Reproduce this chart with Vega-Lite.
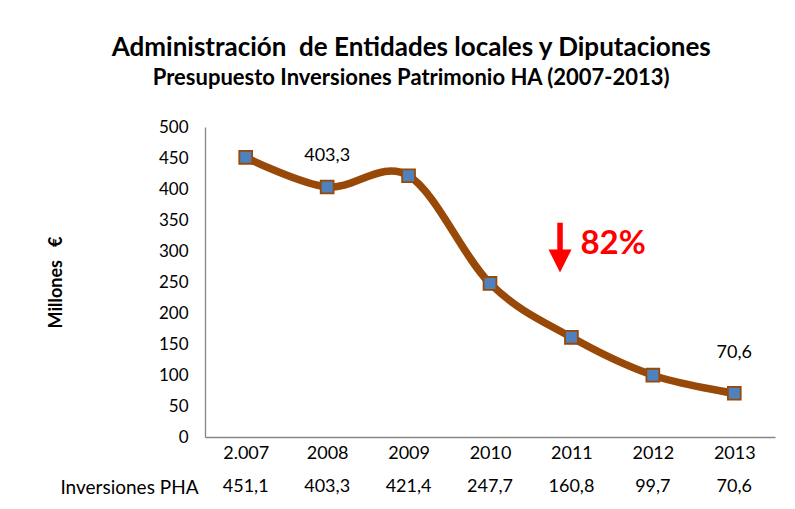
{
  "$schema": "https://vega.github.io/schema/vega-lite/v6.json",
  "background": "white",
  "padding": {"left": 47, "top": 35, "right": 12, "bottom": 5},
  "title": {
    "text": "Administración\u00a0 de Entidades locales y Diputaciones",
    "subtitle": "Presupuesto Inversiones Patrimonio HA (2007-2013)",
    "font": "Lato", "fontSize": 26, "fontWeight": "bold", "color": "#000000",
    "subtitleFont": "Lato", "subtitleFontSize": 22, "subtitleFontWeight": "bold", "subtitleColor": "#000000",
    "subtitlePadding": 7, "anchor": "middle", "frame": "bounds", "offset": 29
  },
  "datasets": {
    "pha": [
      {"year": 2007, "serie": "Inversiones PHA", "v": 451.1},
      {"year": 2008, "serie": "Inversiones PHA", "v": 403.3},
      {"year": 2009, "serie": "Inversiones PHA", "v": 421.4},
      {"year": 2010, "serie": "Inversiones PHA", "v": 247.7},
      {"year": 2011, "serie": "Inversiones PHA", "v": 160.8},
      {"year": 2012, "serie": "Inversiones PHA", "v": 99.7},
      {"year": 2013, "serie": "Inversiones PHA", "v": 70.6}
    ]
  },
  "spacing": 10,
  "vconcat": [
    {
      "width": 570,
      "height": 310,
      "data": {"name": "pha"},
      "encoding": {
        "x": {
          "field": "year", "type": "quantitative",
          "scale": {"domain": [2006.5, 2013.5], "nice": false, "zero": false},
          "axis": {
            "values": [2007, 2008, 2009, 2010, 2011, 2012, 2013],
            "format": "d",
            "labelExpr": "datum.value == 2007 ? '2.007' : datum.label",
            "title": null, "grid": false, "ticks": false,
            "labelPadding": 7, "labelFontSize": 18,
            "domainColor": "#868686", "domainWidth": 1.3
          }
        },
        "y": {
          "field": "v", "type": "quantitative",
          "scale": {"domain": [0, 500], "nice": false},
          "axis": {
            "values": [0, 50, 100, 150, 200, 250, 300, 350, 400, 450, 500],
            "format": "d",
            "title": "Millones\u00a0\u00a0\u00a0€", "titleFontSize": 18, "titleFontWeight": "bold",
            "titlePadding": 93,
            "grid": false, "ticks": false,
            "labelPadding": 17, "labelFontSize": 17,
            "domainColor": "#868686", "domainWidth": 1.3
          }
        }
      },
      "layer": [
        {
          "mark": {"type": "line", "interpolate": "cardinal", "color": "#984807", "strokeWidth": 7.5}
        },
        {
          "mark": {"type": "point", "shape": "square", "filled": true, "fill": "#4F81BD", "stroke": "#984807", "strokeWidth": 1.8, "size": 165, "opacity": 1}
        },
        {
          "transform": [{"filter": "datum.year == 2008"}],
          "mark": {"type": "text", "fontSize": 18, "dy": -31, "color": "#000000"},
          "encoding": {"text": {"field": "v", "type": "quantitative", "format": ",.1f"}}
        },
        {
          "transform": [{"filter": "datum.year == 2013"}],
          "mark": {"type": "text", "fontSize": 18, "dy": -40, "color": "#000000"},
          "encoding": {"text": {"field": "v", "type": "quantitative", "format": ",.1f"}}
        },
        {
          "transform": [{"filter": "datum.year == 2011"}],
          "mark": {"type": "rule", "color": "#FF0000", "strokeWidth": 5.5},
          "encoding": {
            "x": {"datum": 2010.86, "type": "quantitative"},
            "y": {"datum": 345.6, "type": "quantitative"},
            "y2": {"datum": 290}
          }
        },
        {
          "transform": [{"filter": "datum.year == 2011"}],
          "mark": {"type": "point", "shape": "M-1,-1L1,-1L0,1Z", "filled": true, "fill": "#FF0000", "strokeWidth": 0, "size": 530, "opacity": 1},
          "encoding": {
            "x": {"datum": 2010.86, "type": "quantitative"},
            "y": {"datum": 283.9, "type": "quantitative"}
          }
        },
        {
          "transform": [{"filter": "datum.year == 2011"}],
          "mark": {"type": "text", "text": "82%", "fontSize": 33, "fontWeight": "bold", "color": "#FF0000", "align": "left", "baseline": "alphabetic"},
          "encoding": {
            "x": {"datum": 2011.11, "type": "quantitative"},
            "y": {"datum": 295.2, "type": "quantitative"}
          }
        }
      ]
    },
    {
      "width": 570,
      "height": 30,
      "data": {"name": "pha"},
      "mark": {"type": "text", "fontSize": 18, "color": "#000000"},
      "encoding": {
        "x": {
          "field": "year", "type": "quantitative",
          "scale": {"domain": [2006.5, 2013.5], "nice": false, "zero": false},
          "axis": null
        },
        "y": {
          "field": "serie", "type": "nominal",
          "axis": {"title": null, "domain": false, "ticks": false, "labelPadding": 7, "labelFontSize": 19}
        },
        "text": {"field": "v", "type": "quantitative", "format": ",.1f"}
      }
    }
  ],
  "config": {
    "font": "Lato",
    "view": {"stroke": null},
    "axis": {"labelColor": "#000000", "titleColor": "#000000", "labelFont": "Lato", "titleFont": "Lato"},
    "locale": {"number": {"decimal": ",", "thousands": ".", "grouping": [3], "currency": ["", " €"]}}
  }
}
